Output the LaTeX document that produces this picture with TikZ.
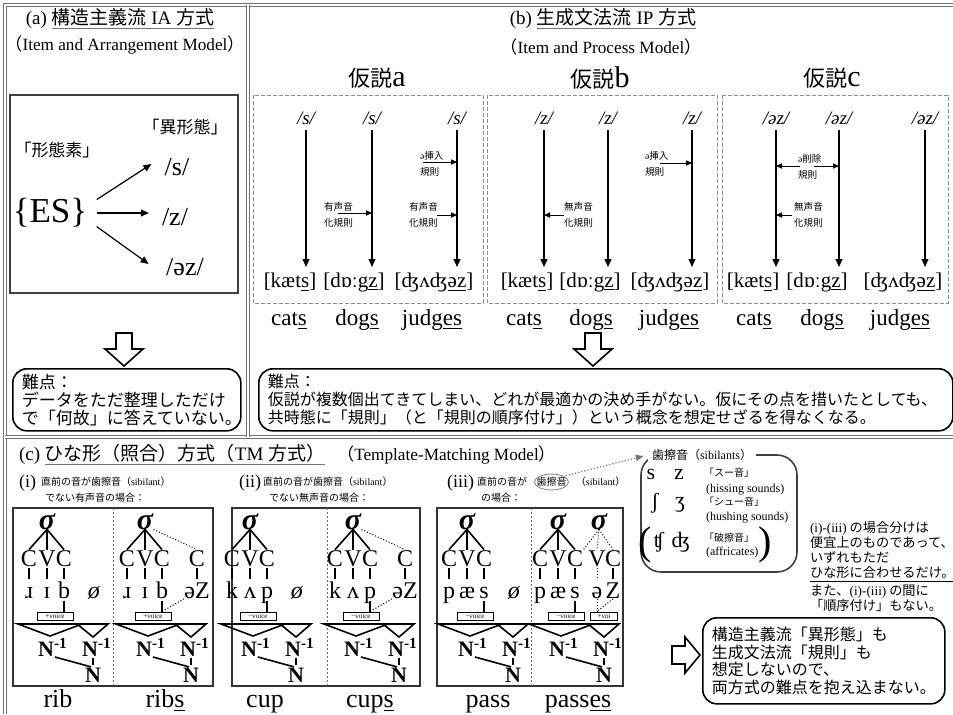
\documentclass[tikz,border=0pt]{standalone}
\usepackage{fontspec}
\setmainfont{Liberation Serif}
\newfontfamily\jp{Noto Sans CJK JP}
\usetikzlibrary{positioning}
\usetikzlibrary{arrows.meta}
\usetikzlibrary{shapes.geometric}

\newcommand{\J}[1]{{\jp #1}}
\newcommand{\fs}[1]{\fontsize{#1}{#1}\selectfont}
\newcommand{\gul}[1]{{\color{black!55}$\underline{\hbox{\color{black}#1}}$}}

\tikzset{
  frame/.style={draw=black!55, double, double distance=0.7pt, line width=0.5pt},
  thinbox/.style={draw=black!75, line width=0.6pt},
  dbox/.style={draw=black!45, dash pattern=on 2pt off 1pt, line width=0.5pt},
  cbox/.style={draw=black!80, line width=0.9pt},
  divider/.style={draw=black!60, dash pattern=on 1pt off 1pt, line width=0.5pt},
  blockarr/.style={draw, fill=white, line width=0.8pt, line join=miter},
  probbox/.style={draw, rounded corners=7pt, line width=0.8pt, anchor=north west,
    align=left, inner xsep=4.5pt, inner ysep=2.5pt, font=\jp\fontsize{8}{9}\selectfont},
  title/.style={font=\fs{9.5}},
  subtitle/.style={font=\fs{8.6}},
  hyp/.style={font=\jp\fs{11}},
  jlbl/.style={font=\jp\fs{8.5}},
  big/.style={font=\fs{17.5}},
  allolbl/.style={font=\fs{13}},
  arr/.style={-{Triangle[length=4pt,width=3.4pt]}, line width=0.6pt},
  colarr/.style={-{Triangle[length=4pt,width=3.4pt]}, line width=0.8pt,
    shorten <=2.5pt, shorten >=2.5pt},
  rulearr/.style={-{Triangle[length=3pt,width=2.6pt]}, line width=0.5pt},
  rulelbl/.style={anchor=west, align=left, font=\jp\fontsize{4.8}{8}\selectfont},
  toplbl/.style={anchor=base, inner sep=0pt, font=\fs{9.5}\itshape},
  botlbl/.style={anchor=base, inner sep=0pt, font=\fs{10.5}},
  word/.style={anchor=base, font=\fs{11.5}},
  tword/.style={anchor=base, font=\fs{13}},
  sublbl/.style={anchor=west, font=\fs{9}},
  subtxt/.style={anchor=west, font=\jp\fs{5}},
  sig/.style={inner sep=0pt, font=\fs{15}\bfseries\itshape, text height=7pt, text depth=0pt},
  cvc/.style={inner sep=0pt, font=\fs{12}, text height=8pt, text depth=0pt},
  seg/.style={inner sep=0pt, font=\fs{12}, text height=8.5pt, text depth=0pt},
  nn/.style={inner sep=0pt, font=\fs{11}\bfseries},
  tree/.style={line width=0.8pt},
  dtree/.style={line width=0.5pt, densely dotted},
  vbr/.style={draw, line width=0.5pt, minimum height=4pt, inner sep=0.3pt, font=\fs{3.5}},
  dotarr/.style={-{Triangle[length=4pt,width=3pt]}, draw=black!55, densely dotted, line width=0.6pt},
  sibch/.style={font=\fs{11}},
  sibj/.style={anchor=west, font=\jp\fs{5}},
  sibe/.style={anchor=west, font=\fs{6}},
  note/.style={anchor=north west, align=left, font=\jp\fontsize{6.6}{7.6}\selectfont},
  downblock/.pic={
    \draw[blockarr] (-8,0) -- (8,0) -- (8,16) -- (19,16) -- (0,33) -- (-19,16) -- (-8,16) -- cycle;
  },
  rightblock/.pic={
    \draw[blockarr] (0,-9) -- (13,-9) -- (13,-18) -- (28,0) -- (13,18) -- (13,9) -- (0,9) -- cycle;
  }
}

% one syllable template: name, x of sigma, three segments, voicing
\newcommand{\sylltree}[6]{%
  \node[sig] (#1-s) at (#2,522) {σ};
  \node[cvc] (#1-c) at ({#2-18},558) {C};
  \node[cvc] (#1-v) at (#2,558) {V};
  \node[cvc] (#1-k) at ({#2+17},558) {C};
  \draw[tree] (#1-s.south) -- (#1-c.north);
  \draw[tree] (#1-s.south) -- (#1-v.north);
  \draw[tree] (#1-s.south) -- (#1-k.north);
  \node[seg] (#1-p) at ({#2-18},590) {#3};
  \node[seg] (#1-q) at (#2,590) {#4};
  \node[seg] (#1-r) at ({#2+17},590) {#5};
  \draw[tree, shorten <=1pt, shorten >=1pt] (#1-c.south) -- (#1-p.north);
  \draw[tree, shorten <=1pt, shorten >=1pt] (#1-v.south) -- (#1-q.north);
  \draw[tree, shorten <=1pt, shorten >=1pt] (#1-k.south) -- (#1-r.north);
  \node[vbr, minimum width=18pt] (#1-b) at ({#2+8},616) {#6};
  \draw[tree, shorten <=1pt] (#1-r.south) -- (#1-r.south |- #1-b.north);
  \draw[tree] ({#2-29},624) -- ({#2+35},624) -- ({#2+3},636) -- cycle;
  \draw[tree] ({#2+30},624) -- ({#2+61},624) -- ({#2+46},637) -- cycle;
  \node[nn] (#1-n) at ({#2+6},647) {N\textsuperscript{-1}};
  \node[nn] (#1-m) at ({#2+50},647) {N\textsuperscript{-1}};
  \node[nn] (#1-N) at ({#2+46},675) {N};
  \draw[tree, shorten <=1pt, shorten >=1pt] (#1-n.south) -- (#1-N.north);
  \draw[tree, shorten <=1pt, shorten >=1pt] (#1-m.south -| #1-N.north) -- (#1-N.north);
}

\begin{document}
\begin{tikzpicture}[x=0.5pt,y=-0.5pt]
\useasboundingbox (0,0) rectangle (953,714);

\draw[frame] (5,714) -- (5,5) -- (953,5);
\draw[frame] (5,437) -- (953,437);
\draw[frame] (248,5) -- (248,437);

%% (a)
\node[title] (atitle) at (120,19) {(a) \gul{\J{構造主義流} IA \J{方式}}};
\node[subtitle] (asub) at (125,45) {\J{（}Item and Arrangement Model\J{）}};
\draw[thinbox] (10,95) rectangle (238,293);
\node[jlbl] (allo) at (185,127) {「異形態」};
\node[jlbl] (morph) at (57,150) {「形態素」};
\node[big] (es) at (50,213) {\{ES\}};
\node[allolbl] (als) at (177,167) {/s/};
\node[allolbl] (alz) at (175,217) {/z/};
\node[allolbl] (alez) at (185,267) {/əz/};
\draw[arr, shorten <=1.5pt, shorten >=3.7pt] (es.15) -- (als.160);
\draw[arr, shorten <=1.5pt, shorten >=3pt] (es.east) -- (es.east -| alz.west);
\draw[arr, shorten <=1.5pt, shorten >=6.5pt] (es.-15) -- (alez.190);

\pic at (124,333) {downblock};
\node[probbox, font=\jp\fontsize{8.5}{9}\selectfont, text width=105pt, minimum height=31pt] (aprob) at (12,368)
  {難点：\\データをただ整理しただけ\\で「何故」に答えていない。};

%% (b)
\node[title] (btitle) at (603,19) {(b) \gul{\J{生成文法流} IP \J{方式}}};
\node[subtitle] (bsub) at (601,47) {\J{（}Item and Process Model\J{）}};
\node[hyp] (hypa) at (377,78) {仮説{\rmfamily\fs{15}a}};
\node[hyp] (hypb) at (600,78) {仮説{\rmfamily\fs{15}b}};
\node[hyp] (hypc) at (832,78) {仮説{\rmfamily\fs{15}c}};
\draw[dbox] (253,95) rectangle (483,303);
\draw[dbox] (487,95) rectangle (717,303);
\draw[dbox] (722,95) rectangle (948,303);

% hypothesis a
\node[toplbl] (ta1) at (306,124) {/s/};
\node[toplbl] (ta2) at (372,124) {/s/};
\node[toplbl] (ta3) at (457,124) {/s/};
\node[botlbl] (ba1) at (290,287) {[kæt\underline{s}]};
\node[botlbl] (ba2) at (354,287) {[dɒːg\underline{z}]};
\node[botlbl] (ba3) at (434,287) {[ʤʌʤ\underline{əz}]};
\draw[colarr] (ta1.south) -- (ta1.south |- ba1.north);
\draw[colarr] (ta2.south) -- (ta2.south |- ba2.north);
\draw[colarr] (ta3.south) -- (ta3.south |- ba3.north);
\node[rulelbl] (ra2) at (317,215) {有声音\\化規則};
\coordinate (ra2s) at (338,213);
\draw[rulearr] (ra2s) -- (ra2s -| ta2);
\node[rulelbl] (ra3a) at (413,164) {{\rmfamily ə}挿入\\規則};
\coordinate (ra3as) at (423,162);
\draw[rulearr] (ra3as) -- (ra3as -| ta3);
\node[rulelbl] (ra3b) at (402,215) {有声音\\化規則};
\coordinate (ra3bs) at (437,215);
\draw[rulearr] (ra3bs) -- (ra3bs -| ta3);

% hypothesis b
\node[toplbl] (tb1) at (544,124) {/z/};
\node[toplbl] (tb2) at (608,124) {/z/};
\node[toplbl] (tb3) at (692,124) {/z/};
\node[botlbl] (bb1) at (527,287) {[kæt\underline{s}]};
\node[botlbl] (bb2) at (590,287) {[dɒːg\underline{z}]};
\node[botlbl] (bb3) at (670,287) {[ʤʌʤ\underline{əz}]};
\draw[colarr] (tb1.south) -- (tb1.south |- bb1.north);
\draw[colarr] (tb2.south) -- (tb2.south |- bb2.north);
\draw[colarr] (tb3.south) -- (tb3.south |- bb3.north);
\node[rulelbl] (rb1) at (557,215) {無声音\\化規則};
\coordinate (rb1s) at (564,215);
\draw[rulearr] (rb1s) -- (rb1s -| tb1);
\node[rulelbl] (rb3) at (638,164) {{\rmfamily ə}挿入\\規則};
\coordinate (rb3s) at (660,163);
\draw[rulearr] (rb3s) -- (rb3s -| tb3);

% hypothesis c
\node[toplbl] (tc1) at (776,124) {/əz/};
\node[toplbl] (tc2) at (839,124) {/əz/};
\node[toplbl] (tc3) at (925,124) {/əz/};
\node[botlbl] (bc1) at (753,287) {[kæt\underline{s}]};
\node[botlbl] (bc2) at (817,287) {[dɒːg\underline{z}]};
\node[botlbl] (bc3) at (903,287) {[ʤʌʤ\underline{əz}]};
\draw[colarr] (tc1.south) -- (tc1.south |- bc1.north);
\draw[colarr] (tc2.south) -- (tc2.south |- bc2.north);
\draw[colarr] (tc3.south) -- (tc3.south |- bc3.north);
\node[rulelbl] (rc1) at (791,167) {{\rmfamily ə}削除\\規則};
\coordinate (rc1l) at (800,166);
\coordinate (rc1r) at (814,166);
\draw[rulearr] (rc1l) -- (rc1l -| tc1);
\draw[rulearr] (rc1r) -- (rc1r -| tc2);
\node[rulelbl] (rc2) at (787,215) {無声音\\化規則};
\coordinate (rc2s) at (792,215);
\draw[rulearr] (rc2s) -- (rc2s -| tc1);

\node[word] (wa1) at (289,325) {cat\underline{s}};
\node[word] (wa2) at (357,325) {dog\underline{s}};
\node[word] (wa3) at (432,325) {judg\underline{es}};
\node[word] (wb1) at (524,325) {cat\underline{s}};
\node[word] (wb2) at (591,325) {dog\underline{s}};
\node[word] (wb3) at (669,325) {judg\underline{es}};
\node[word] (wc1) at (754,325) {cat\underline{s}};
\node[word] (wc2) at (822,325) {dog\underline{s}};
\node[word] (wc3) at (900,325) {judg\underline{es}};

\pic at (593,333) {downblock};
\node[probbox, text width=338pt, minimum height=31pt] (bprob) at (258,368)
  {難点：\\仮説が複数個出てきてしまい、どれが最適かの決め手がない。仮にその点を措いたとしても、\\共時態に「規則」（と「規則の順序付け」）という概念を想定せざるを得なくなる。};

%% (c)
\node[title, anchor=west] (ctitle) at (12,455) {(c) \gul{\J{ひな形（照合）方式（}TM \J{方式）}}};
\node[subtitle, anchor=west] (csub) at (330,455) {\J{（}Template-Matching Model\J{）}};

\node[sublbl] (lab1) at (12,483) {(i)};
\node[subtxt] (lab1a) at (34,482) {直前の音が歯擦音（{\rmfamily sibilant}）};
\node[subtxt] (lab1b) at (38,498) {でない有声音の場合：};
\node[sublbl] (lab2) at (232,483) {(ii)};
\node[subtxt] (lab2a) at (256,482) {直前の音が歯擦音（{\rmfamily sibilant}）};
\node[subtxt] (lab2b) at (262,498) {でない無声音の場合：};
\node[sublbl] (lab3) at (440,483) {(iii)};
\node[subtxt] (lab3a) at (470,482) {直前の音が};
\node[subtxt, ellipse, draw=black!50, line width=0.4pt, inner xsep=-1.5pt, inner ysep=0.5pt, right=0pt of lab3a] (sibc) {歯擦音};
\node[subtxt, right=0pt of sibc] (lab3c) {（{\rmfamily sibilant}）};
\node[subtxt] (lab3b) at (474,498) {の場合：};

\draw[cbox] (13,508) rectangle (213,686);
\draw[divider] (113,508) -- (113,686);
\draw[cbox] (232,508) rectangle (420,686);
\draw[divider] (327,508) -- (327,686);
\draw[cbox] (437,508) rectangle (623,686);
\draw[divider] (531,508) -- (531,686);

% (i) rib / ribs
\sylltree{ia}{47}{ɹ}{ɪ}{b}{+voice}
\node[seg] (ia-z) at (94,590) {\textit{ø}};
\sylltree{ib}{145}{ɹ}{ɪ}{b}{+voice}
\node[cvc] (ib-x) at (197,558) {C};
\node[seg] (ib-y) at (197,590) {əZ};
\draw[dtree] (ib-s.south east) -- (ib-x.north);
\draw[tree, shorten <=1pt, shorten >=1pt] (ib-x.south) -- (ib-y.north);
\draw[dtree] (ib-y.south west) -- (ib-r.south |- ib-b.north);

% (ii) cup / cups
\sylltree{iia}{250}{k}{ʌ}{p}{−voice}
\node[seg] (iia-z) at (297,590) {\textit{ø}};
\sylltree{iib}{353}{k}{ʌ}{p}{−voice}
\node[cvc] (iib-x) at (405,558) {C};
\node[seg] (iib-y) at (405,590) {əZ};
\draw[dtree] (iib-s.south east) -- (iib-x.north);
\draw[tree, shorten <=1pt, shorten >=1pt] (iib-x.south) -- (iib-y.north);
\draw[dtree] (iib-y.south west) -- (iib-r.south |- iib-b.north);

% (iii) pass / passes
\sylltree{iiia}{467}{p}{æ}{s}{−voice}
\node[seg] (iiia-z) at (514,590) {\textit{ø}};
\sylltree{iiib}{558}{p}{æ}{s}{−voice}
\node[sig] (iiib-s2) at (599,522) {σ};
\node[cvc] (iiib-v2) at (597,558) {V};
\node[cvc] (iiib-k2) at (613,558) {C};
\draw[dtree] (iiib-s2.south) -- (iiib-k.north east);
\draw[dtree] (iiib-s2.south) -- (iiib-v2.north);
\draw[dtree] (iiib-s2.south) -- (iiib-k2.north);
\node[seg] (iiib-e) at (597,590) {ə};
\node[seg] (iiib-zz) at (613,590) {Z};
\draw[dtree, shorten <=1pt, shorten >=1pt] (iiib-v2.south) -- (iiib-e.north);
\draw[tree, shorten <=1pt, shorten >=1pt] (iiib-k2.south) -- (iiib-zz.north);
\node[vbr, minimum width=13.5pt] (iiib-b2) at (604,616) {+voi};
\draw[dtree] (iiib-e.south) -- (iiib-e.south |- iiib-b2.north);
\draw[dtree] (iiib-zz.south) -- (iiib-e.south |- iiib-b2.north);

\node[tword] (wrib) at (58,707) {rib};
\node[tword] (wribs) at (165,707) {rib\underline{s}};
\node[tword] (wcup) at (265,707) {cup};
\node[tword] (wcups) at (370,707) {cup\underline{s}};
\node[tword] (wpass) at (488,707) {pass};
\node[tword] (wpasses) at (578,707) {pass\underline{es}};

% sibilants
\draw[thinbox, line width=0.8pt, rounded corners=10pt] (641,455) rectangle (797,572);
\node[sibe, anchor=center, fill=white, inner xsep=2pt] (sibhead) at (702,455) {\J{歯擦音（}sibilants\J{）}};
\draw[dotarr, shorten <=1pt, shorten >=2pt] (sibc.north east) -- (sibhead.west);
\node[sibch] (sibs) at (651,474) {s};
\node[sibch] (sibz) at (679,474) {z};
\node[sibj] (sibhiss) at (697,473) {「スー音」};
\node[sibe] (sibhisse) at (699,490) {(hissing sounds)};
\node[sibch] (sibsh) at (655,503) {ʃ};
\node[sibch] (sibzh) at (680,505) {ʒ};
\node[sibj] (sibhush) at (697,502) {「シュー音」};
\node[sibe] (sibhushe) at (699,518) {(hushing sounds)};
\node[font=\fs{20}] (sibl) at (645,545) {(};
\node[sibch] (sibtsh) at (659,542) {ʧ};
\node[sibch] (sibdzh) at (681,542) {ʤ};
\node[sibj] (sibaff) at (697,538) {「破擦音」};
\node[sibe] (sibaffe) at (699,553) {(affricates)};
\node[font=\fs{20}] (sibr) at (765,545) {)};

\node[note] (cnote) at (803,514) {{\rmfamily (i)-(iii)} の場合分けは\\便宜上のものであって、\\いずれもただ\\\underline{ひな形に合わせるだけ。}\\また、{\rmfamily (i)-(iii)} の間に\\「順序付け」もない。};

\pic at (672,655) {rightblock};
\node[probbox, font=\jp\fontsize{8}{8.8}\selectfont, text width=112pt, minimum height=43pt] (cprob) at (702,617)
  {構造主義流「異形態」も\\生成文法流「規則」も\\想定しないので、\\両方式の難点を抱え込まない。};

\end{tikzpicture}
\end{document}
